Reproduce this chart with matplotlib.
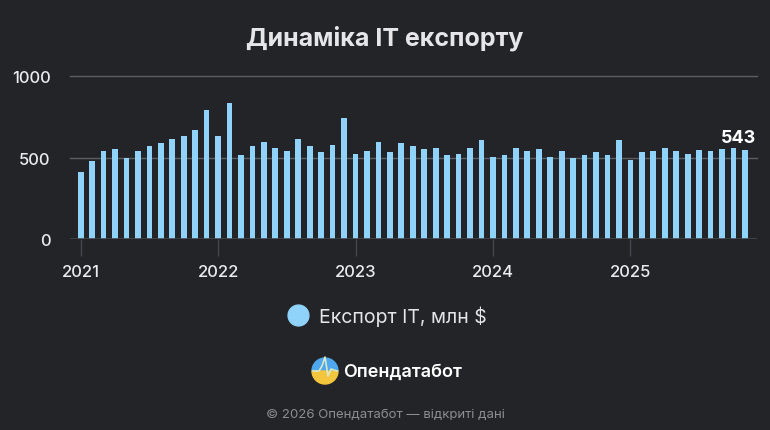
import matplotlib
matplotlib.use("Agg")
import matplotlib.pyplot as plt
from matplotlib.lines import Line2D
from matplotlib.patches import Wedge
import numpy as np

plt.rcParams["font.family"] = ["Inter", "DejaVu Sans"]

# ==========================
# Data (monthly, Jan 2021 - Nov 2025)
# ==========================

export_it = [
    412, 476, 539, 553, 498, 539, 569, 586, 616, 631, 669, 790,
    631, 835, 514, 569, 594, 561, 539, 616, 569, 531, 578, 743,
    522, 539, 594, 531, 586, 569, 553, 561, 514, 522, 561, 608,
    506, 514, 561, 539, 553, 506, 539, 498, 514, 531, 514, 608,
    484, 531, 539, 561, 539, 522, 547, 539, 553, 561, 543,
]
year_labels = ["2021", "2022", "2023", "2024", "2025"]
y_ticks = [0, 500, 1000]

bg = "#222428"
bar_color = "#8fd2fa"

# ==========================
# Figure
# ==========================

fig = plt.figure(figsize=(7.7, 4.31), dpi=100, facecolor=bg)
ax = fig.add_axes([0.0909, 0.4432, 0.8922, 0.3781])
ax.set_facecolor(bg)

x = np.arange(len(export_it))
ax.bar(x, export_it, width=0.5, color=bar_color, zorder=3)

ax.set_xlim(-0.93, 59.05)
ax.set_ylim(0, 1000)

ax.set_yticks(y_ticks)
ax.set_yticklabels([str(v) for v in y_ticks])
ax.set_xticks([i * 12 for i in range(len(year_labels))])
ax.set_xticklabels(year_labels)

for v in y_ticks[1:]:
    ax.axhline(v, color="#5b5d62", lw=1, zorder=1, clip_on=False)
ax.axhline(0, color="#45474c", lw=1.2, zorder=4)

for s in ax.spines.values():
    s.set_visible(False)

ax.tick_params(axis="y", length=0, pad=14, labelsize=12, labelcolor="#ececee")
ax.tick_params(axis="x", length=12, width=1, color="#45474c", pad=6,
               labelsize=12, labelcolor="#ececee")
for lbl in ax.get_xticklabels() + ax.get_yticklabels():
    lbl.set_fontweight("medium")

# last value label
ax.annotate(str(export_it[-1]), (x[-1], export_it[-1]), xytext=(-5, 3),
            textcoords="offset points", ha="center", va="bottom",
            fontsize=13, fontweight="bold", color="white", zorder=5,
            annotation_clip=False)

# title
fig.text(0.5, 0.912, "Динаміка IT експорту", ha="center", va="center",
         fontsize=18, fontweight="bold", color="#e6e6e8")

# legend
handle = Line2D([], [], marker="o", linestyle="none", markersize=15,
                markerfacecolor=bar_color, markeredgecolor=bar_color)
fig.legend([handle], ["Експорт IT, млн $"], loc="center",
           bbox_to_anchor=(0.497, 0.2645), frameon=False,
           fontsize=14, labelcolor="#e6e6e8", handletextpad=0.05)

# brand logo
cy = 1 - 372 / 431
w_top = Wedge((325, 431 - 372), 13, 0, 180, color="#4ea7ef", transform=None)
w_bot = Wedge((325, 431 - 372), 13, 180, 360, color="#f4c63d", transform=None)
fig.add_artist(w_top)
fig.add_artist(w_bot)
fig.add_artist(Line2D([313, 319, 322, 325, 328, 331, 337],
                      [59, 59, 64, 73, 54, 61, 59],
                      color="#d8e8c8", lw=1.2, transform=None))
fig.text(343 / 770, cy, "Опендатабот", ha="left", va="center",
         fontsize=13, fontweight="semibold", color="white")

# footer
fig.text(0.5, 1 - 415 / 431, "© 2026 Опендатабот — відкриті дані",
         ha="center", va="center", fontsize=9.5, color="#8b8d92")

fig.savefig("out.png", dpi=100, facecolor=bg)
